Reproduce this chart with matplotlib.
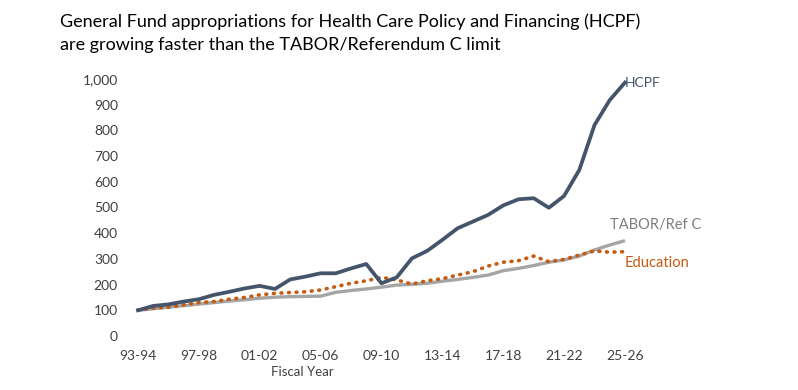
import matplotlib
matplotlib.use("Agg")
import matplotlib.pyplot as plt
from matplotlib.ticker import FuncFormatter, MultipleLocator

years = [f"{y % 100:02d}-{(y + 1) % 100:02d}" for y in range(1993, 2026)]

hcpf = [100, 117, 123, 134, 143, 160, 172, 185, 195, 183, 220, 231, 244, 244, 263, 280,
        205, 228, 302, 331, 374, 419, 445, 471, 508, 532, 536, 499, 545, 646, 821, 918, 986]
tabor = [100, 106, 112, 118, 124, 130, 136, 141, 147, 151, 153, 154, 155, 170, 177, 183,
         190, 198, 201, 205, 213, 220, 228, 237, 254, 263, 274, 287, 296, 311, 335, 354, 371]
education = [101, 108, 112, 121, 130, 134, 143, 150, 160, 166, 169, 172, 179, 192, 205, 215,
             228, 218, 202, 215, 223, 237, 250, 272, 287, 293, 311, 289, 298, 315, 331, 326, 328]

tick_labels = years[::4]

plt.rcParams['font.family'] = ['Lato', 'DejaVu Sans']

fig = plt.figure(figsize=(7.98, 3.90), dpi=100)
ax = fig.add_axes([0.1634, 0.1385, 0.6293, 0.659])

x = list(range(len(years)))
c_h, c_t, c_e = '#44546A', '#A5A5A5', '#C55A11'
ax.plot(x, tabor, color=c_t, lw=2.4, solid_capstyle='butt', clip_on=False, zorder=2)
ax.plot(x, education, color=c_e, lw=2.6, linestyle=(0, (0.25, 1.85)), dash_capstyle='round',
        clip_on=False, zorder=3)
ax.plot(x, hcpf, color=c_h, lw=2.7, solid_joinstyle='round', clip_on=False, zorder=4)

ax.set_xlim(-0.5, len(years) - 0.5)
ax.set_ylim(0, 1000)
ax.yaxis.set_major_locator(MultipleLocator(100))
ax.yaxis.set_major_formatter(FuncFormatter(lambda v, p: f"{int(v):,}"))
ax.set_xticks(x[::4])
ax.set_xticklabels(tick_labels)
for s in ax.spines.values():
    s.set_visible(False)
ax.tick_params(axis='both', length=0, labelsize=10, labelcolor='#404040')
ax.tick_params(axis='y', pad=9)
ax.tick_params(axis='x', pad=10)
ax.set_xlabel('Fiscal Year', fontsize=9.5, color='#404040', va='center')
ax.xaxis.set_label_coords(0.342, -0.14)

ax.annotate('HCPF', (x[-1], hcpf[-1]), xytext=(0, 0), textcoords='offset points',
            ha='left', va='center', color=c_h, fontsize=10)
ax.annotate('TABOR/Ref C', (x[-1], tabor[-1]), xytext=(-11, 11), textcoords='offset points',
            ha='left', va='center', color='#7F7F7F', fontsize=10.5)
ax.annotate('Education', (x[-1], education[-1]), xytext=(0, -8), textcoords='offset points',
            ha='left', va='center', color=c_e, fontsize=10.5)

fig.text(60 / 798, 1 - 22 / 390, 'General Fund appropriations for Health Care Policy and Financing (HCPF)',
         fontsize=13, color='black', va='center', ha='left')
fig.text(60 / 798, 1 - 45 / 390, 'are growing faster than the TABOR/Referendum C limit',
         fontsize=13, color='black', va='center', ha='left')

fig.savefig('out.png', dpi=100)
